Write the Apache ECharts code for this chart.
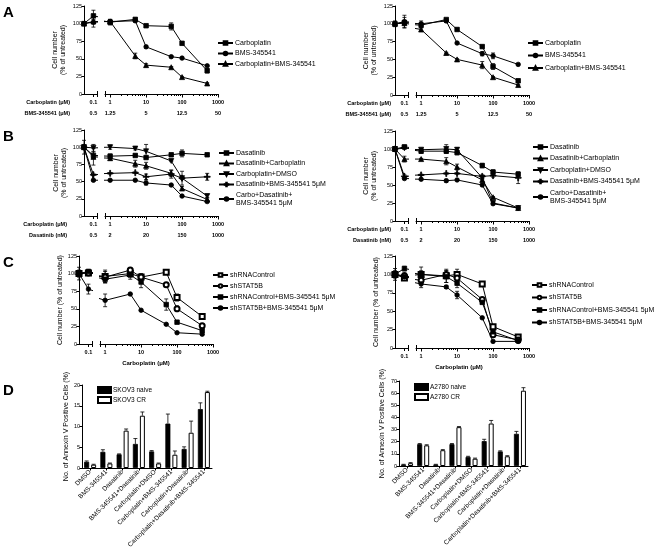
<!DOCTYPE html>
<html><head><meta charset="utf-8">
<script src="https://cdn.jsdelivr.net/npm/echarts@6/dist/echarts.min.js"></script>
<style>html,body{margin:0;padding:0;background:#fff}#c{width:662px;height:557px}</style>
</head><body><div id="c"></div>
<script>
// ---------------- DATA ----------------
const conc = [0.05, 0.1, 1, 5, 10, 50, 100, 500]; // first point = untreated
const carboTicks = [0.1, 1, 10, 100, 1000];
const bmsTickLabels = ['0.5', '1.25', '5', '12.5', '50'];
const dasaTickLabels = ['0.5', '2', '20', '150', '1000'];

// Panel A left
const aL_carbo = [100, 111, 102, 106, 97, 96, 72, 33];
const aL_carboErr = [0, 8, 4, 2, 1, 5, 2, 3];
const aL_bms = [100, 102, 103, 104, 67, 53, 51, 40];
const aL_bmsErr = [2, 7, 3, 2, 2, 1, 1, 1];
const aL_combo = [100, 103, 103, 54, 41, 38, 24, 15];
const aL_comboErr = [0, 3, 2, 4, 2, 1, 1, 1];
// Panel A right
const aR_carbo = [100, 102, 98, 106, 92, 68, 40, 20];
const aR_carboErr = [4, 7, 3, 1, 2, 2, 4, 2];
const aR_bms = [100, 103, 100, 104, 73, 58, 55, 43];
const aR_bmsErr = [2, 9, 4, 2, 1, 3, 4, 1];
const aR_combo = [100, 101, 92, 59, 50, 42, 25, 14];
const aR_comboErr = [2, 3, 2, 1, 1, 5, 1, 1];
// Panel B left
const bL_dasa = [100, 88, 87, 88, 85, 89, 91, 89];
const bL_dasaErr = [3, 5, 3, 2, 2, 2, 5, 2];
const bL_dasaCarbo = [100, 86, 84, 76, 73, 62, 40, 24];
const bL_dasaCarboErr = [0, 12, 3, 5, 5, 4, 3, 2];
const bL_carboDmso = [100, 99, 100, 98, 94, 80, 55, 29];
const bL_carboDmsoErr = [10, 5, 3, 2, 10, 1, 10, 2];
const bL_dasaBms = [100, 60, 62, 63, 57, 61, 55, 57];
const bL_dasaBmsErr = [3, 1, 1, 1, 4, 6, 2, 5];
const bL_triple = [100, 52, 52, 52, 48, 45, 29, 21];
const bL_tripleErr = [2, 1, 1, 1, 3, 1, 1, 1];
// Panel B right
const bR_dasa = [100, 103, 97, 97, 95, 77, 68, 65];
const bR_dasaErr = [3, 2, 3, 2, 3, 3, 3, 3];
const bR_dasaCarbo = [100, 86, 86, 83, 75, 57, 33, 18];
const bR_dasaCarboErr = [2, 4, 1, 5, 4, 2, 1, 1];
const bR_carboDmso = [100, 101, 99, 100, 99, 60, 25, 18];
const bR_carboDmsoErr = [3, 1, 2, 6, 3, 2, 1, 1];
const bR_dasaBms = [100, 62, 64, 66, 66, 62, 63, 60];
const bR_dasaBmsErr = [2, 2, 1, 1, 1, 2, 2, 8];
const bR_triple = [100, 59, 58, 56, 57, 50, 24, 18];
const bR_tripleErr = [2, 1, 1, 2, 1, 1, 1, 1];
// Panel C left
const cL_ctrl = [100, 101, 96, 100, 95, 102, 66, 39];
const cL_ctrlErr = [5, 2, 9, 4, 5, 3, 5, 2];
const cL_stat = [100, 101, 95, 105, 95, 84, 50, 26];
const cL_statErr = [3, 2, 8, 3, 3, 2, 4, 2];
const cL_ctrlBms = [100, 103, 92, 98, 88, 56, 31, 19];
const cL_ctrlBmsErr = [4, 3, 5, 6, 8, 8, 2, 2];
const cL_statBms = [100, 78, 62, 71, 48, 28, 16, 14];
const cL_statBmsErr = [9, 7, 9, 1, 1, 1, 1, 2];
// Panel C right
const cR_ctrl = [100, 95, 100, 98, 100, 87, 29, 15];
const cR_ctrlErr = [5, 3, 10, 9, 7, 2, 2, 2];
const cR_stat = [100, 98, 92, 100, 95, 66, 18, 11];
const cR_statErr = [8, 5, 4, 5, 4, 2, 2, 1];
const cR_ctrlBms = [100, 108, 100, 97, 88, 62, 22, 10];
const cR_ctrlBmsErr = [4, 3, 5, 8, 6, 2, 2, 1];
const cR_statBms = [100, 97, 87, 83, 72, 41, 9, 9];
const cR_statBmsErr = [4, 3, 5, 2, 5, 1, 1, 1];
// Panel D
const dCategories = ['DMSO', 'BMS-345541', 'Dasatinib', 'BMS-345541+Dasatinib', 'Carboplatin+DMSO',
  'Carboplatin+BMS-345541', 'Carboplatin+Dasatinib', 'Carboplatin+Dasatinib+BMS-345541'];
const skov3Naive = [1.5, 3.9, 3.3, 5.8, 4.0, 10.7, 4.6, 14.2];
const skov3NaiveErr = [0.2, 0.5, 0.1, 1.3, 0.2, 2.3, 0.5, 1.5];
const skov3CR = [0.8, 1.1, 9.0, 12.6, 1.1, 3.2, 8.5, 18.3];
const skov3CRErr = [0.1, 0.1, 0.4, 0.9, 0.1, 0.9, 2.8, 0.2];
const a2780Naive = [1.2, 18, 1.2, 18, 7.5, 20.5, 12, 26.5];
const a2780NaiveErr = [0.2, 0.5, 0.2, 0.5, 0.5, 1.5, 0.5, 2];
const a2780CR = [2.3, 17, 13, 32, 6, 35, 8, 62];
const a2780CRErr = [0.5, 0.5, 0.5, 0.5, 0.5, 2.5, 0.5, 2.5];

// ---------------- STYLE / LAYOUT ----------------
const FONT = '"Liberation Sans", Arial, sans-serif';
const K = '#000';
const SYM = {
  square: {symbol: 'rect', size: 4.5},
  circle: {symbol: 'circle', size: 4.5},
  tri: {symbol: 'triangle', size: 5},
  triDown: {symbol: 'triangle', size: 5, rotate: 180},
  plus: {symbol: 'path://M4.2,0H5.8V4.2H10V5.8H5.8V10H4.2V5.8H0V4.2H4.2Z', size: 6},
  openSquare: {symbol: 'emptyRect', size: 5},
  openCircle: {symbol: 'emptyCircle', size: 5}
};
const minorTicks = [];
[1, 10, 100].forEach(d => { for (let m = 2; m <= 9; m++) minorTicks.push(m * d); });

const grid = [], xAxis = [], yAxis = [], series = [], legend = [], graphic = [];

function errRender(params, api) {
  const x = api.value(0), y = api.value(1), e = api.value(2);
  if (!e) return;
  const cs = params.coordSys;
  const p = api.coord([x, y]);
  if (p[0] < cs.x - 1 || p[0] > cs.x + cs.width + 1) return;
  const t = api.coord([x, y + e]), b = api.coord([x, Math.max(0, y - e)]);
  const st = {stroke: K, lineWidth: 0.8};
  return {type: 'group', children: [
    {type: 'line', shape: {x1: p[0], y1: t[1], x2: p[0], y2: b[1]}, style: st},
    {type: 'line', shape: {x1: p[0] - 2, y1: t[1], x2: p[0] + 2, y2: t[1]}, style: st},
    {type: 'line', shape: {x1: p[0] - 2, y1: b[1], x2: p[0] + 2, y2: b[1]}, style: st}
  ]};
}

function tickFormatter(row2) {
  return function (v) {
    const i = carboTicks.findIndex(t => Math.abs(Math.log10(t) - Math.log10(v)) < 0.01);
    if (i < 0) return '';
    return row2 ? carboTicks[i] + '\n' + row2[i] : String(carboTicks[i]);
  };
}

function text(x, y, str, font, align) {
  graphic.push({type: 'text', x: x, y: y, silent: true,
    style: {text: str, font: font, fill: K, textAlign: align || 'left', align: align || 'left',
      textVerticalAlign: 'middle', verticalAlign: 'middle'}});
}

function linePanel(p) {
  const gi = grid.length;
  const h = p.bottom - p.top;
  grid.push({left: p.x0, top: p.top, width: 13, height: h, outerBoundsMode: 'none'});
  grid.push({left: p.x0 + 21, top: p.top, width: 113, height: h, outerBoundsMode: 'none'});
  const xi = xAxis.length;
  const lab = {show: true, fontSize: 5.5, fontWeight: 'bold', color: K, fontFamily: FONT,
    lineHeight: 11, margin: 3, formatter: tickFormatter(p.row2)};
  const base = {type: 'log', position: 'bottom', splitLine: {show: false},
    minorTick: {show: false}, minorSplitLine: {show: false}};
  xAxis.push(Object.assign({}, base, {gridIndex: gi, min: 0.05, max: 0.13,
    axisLine: {show: true, onZero: false, lineStyle: {color: K, width: 1}},
    axisTick: {show: true, customValues: [0.1], length: 3, lineStyle: {color: K}},
    axisLabel: Object.assign({customValues: [0.1]}, lab)}));
  xAxis.push(Object.assign({}, base, {gridIndex: gi, min: 0.05, max: 0.13, offset: -3,
    axisLine: {show: false}, axisTick: {show: true, customValues: [0.1299], length: 6, lineStyle: {color: K}},
    axisLabel: {show: false}}));
  xAxis.push(Object.assign({}, base, {gridIndex: gi + 1, min: 0.72, max: 1000,
    axisLine: {show: true, onZero: false, lineStyle: {color: K, width: 1}},
    axisTick: {show: true, customValues: [1, 10, 100, 1000], length: 3.5, lineStyle: {color: K}},
    axisLabel: Object.assign({customValues: [1, 10, 100, 1000]}, lab)}));
  xAxis.push(Object.assign({}, base, {gridIndex: gi + 1, min: 0.72, max: 1000,
    axisLine: {show: false}, axisTick: {show: true, customValues: minorTicks, length: 2, lineStyle: {color: K}},
    axisLabel: {show: false}}));
  xAxis.push(Object.assign({}, base, {gridIndex: gi + 1, min: 0.72, max: 1000, offset: -3,
    axisLine: {show: false}, axisTick: {show: true, customValues: [0.7201], length: 6, lineStyle: {color: K}},
    axisLabel: {show: false}}));
  const yi = yAxis.length;
  yAxis.push({gridIndex: gi, type: 'value', min: 0, max: 125, interval: 25,
    axisLine: {show: true, lineStyle: {color: K, width: 1}},
    axisTick: {show: true, length: 2.5, lineStyle: {color: K}},
    axisLabel: {fontSize: 5.5, color: K, margin: 2, fontFamily: FONT},
    splitLine: {show: false},
    name: p.yName, nameLocation: 'middle', nameGap: p.nameGap, nameRotate: 90,
    nameTextStyle: {fontSize: 7, color: K, lineHeight: 8, fontFamily: FONT}});
  yAxis.push({gridIndex: gi + 1, type: 'value', min: 0, max: 125, interval: 25, show: false});

  p.series.forEach(s => {
    const data = conc.map((c, i) => [c, s.vals[i]]);
    const sy = SYM[s.sym];
    [xi, xi + 2].forEach((xa, k) => {
      series.push({type: 'line', name: s.name, xAxisIndex: xa, yAxisIndex: yi + k, data: data,
        symbol: sy.symbol, symbolSize: sy.size, symbolRotate: sy.rotate || 0, showAllSymbol: true,
        lineStyle: {color: K, width: 1}, itemStyle: {color: K, borderColor: K, borderWidth: 0.8},
        clip: true, z: 3, emphasis: {disabled: true}});
    });
  });
  [xi, xi + 2].forEach((xa, k) => {
    const items = [];
    p.series.forEach(s => conc.forEach((c, i) => items.push([c, s.vals[i], s.err[i]])));
    series.push({type: 'custom', name: 'err' + gi + k, xAxisIndex: xa, yAxisIndex: yi + k,
      data: items, renderItem: errRender, silent: true, z: 2});
  });
  legend.push({left: p.lg[0], top: p.lg[1], orient: 'vertical', itemGap: p.lg[2], padding: 0,
    itemWidth: 15, itemHeight: 4.5, selectedMode: false,
    data: p.series.map(s => s.name),
    textStyle: {fontSize: 7, color: K, fontFamily: FONT, lineHeight: 8, padding: [0, 0, 0, -3]}});
  if (p.rowTitles) {
    p.rowTitles.forEach((t, i) => text(p.rowRight, p.bottom + 8 + i * 11, t, 'bold 5.5px ' + FONT, 'right'));
  }
  if (p.xTitle) text(p.xTitle[0], p.xTitle[1], p.xTitle[2], 'bold 6px ' + FONT, 'center');
}

function barPanel(p) {
  const gi = grid.length;
  grid.push({left: p.left, top: p.top, width: p.width, height: p.bottom - p.top, outerBoundsMode: 'none'});
  const xi = xAxis.length, yi = yAxis.length;
  xAxis.push({gridIndex: gi, type: 'category', data: dCategories,
    axisLine: {show: true, lineStyle: {color: K, width: 1}},
    axisTick: {show: true, alignWithLabel: true, length: 2.5, lineStyle: {color: K}},
    axisLabel: {rotate: 45, interval: 0, fontSize: 6.5, color: K, margin: 3, fontFamily: FONT}});
  yAxis.push({gridIndex: gi, type: 'value', min: 0, max: p.max, interval: p.interval,
    axisLine: {show: true, lineStyle: {color: K, width: 1}},
    axisTick: {show: true, length: 2.5, lineStyle: {color: K}},
    axisLabel: {fontSize: 5.5, color: K, margin: 2, fontFamily: FONT},
    splitLine: {show: false},
    name: 'No. of Annexin V Positive Cells (%)', nameLocation: 'middle', nameGap: p.nameGap, nameRotate: 90,
    nameTextStyle: {fontSize: 7, color: K, fontFamily: FONT}});
  series.push({type: 'bar', name: p.names[0], xAxisIndex: xi, yAxisIndex: yi, data: p.naive,
    barWidth: 5, barGap: '40%', itemStyle: {color: K, borderColor: K, borderWidth: 0.8}, z: 3});
  series.push({type: 'bar', name: p.names[1], xAxisIndex: xi, yAxisIndex: yi, data: p.cr,
    barWidth: 5, barGap: '40%', itemStyle: {color: '#fff', borderColor: K, borderWidth: 1}, z: 3});
  const items = [];
  p.naive.forEach((v, i) => items.push([i, v, p.naiveErr[i], -1]));
  p.cr.forEach((v, i) => items.push([i, v, p.crErr[i], 1]));
  series.push({type: 'custom', name: 'barErr' + gi, xAxisIndex: xi, yAxisIndex: yi, data: items, silent: true, z: 4,
    renderItem: function (params, api) {
      const i = api.value(0), v = api.value(1), e = api.value(2), side = api.value(3);
      const b = api.coord([i, v]), t = api.coord([i, v + e]);
      const x = b[0] + side * 3.5;
      const st = {stroke: K, lineWidth: 0.8};
      return {type: 'group', children: [
        {type: 'line', shape: {x1: x, y1: b[1], x2: x, y2: t[1]}, style: st},
        {type: 'line', shape: {x1: x - 2, y1: t[1], x2: x + 2, y2: t[1]}, style: st}]};
    }});
  legend.push({left: p.lg[0], top: p.lg[1], orient: 'vertical', itemGap: 2, itemWidth: 13, itemHeight: 6,
    padding: 0, icon: 'rect', selectedMode: false, data: p.names,
    textStyle: {fontSize: 6.5, color: K, fontFamily: FONT, padding: [0, 0, 0, -3]}});
}

const cellName2 = 'Cell number\n(% of untreated)';
const cellName1 = 'Cell number (% of untreated)';
const aNames = ['Carboplatin', 'BMS-345541', 'Carboplatin+BMS-345541'];
const bNames = ['Dasatinib', 'Dasatinib+Carboplatin', 'Carboplatin+DMSO', 'Dasatinib+BMS-345541 5μM', 'Carbo+Dasatinib+\nBMS-345541 5μM'];
const cNames = ['shRNAControl', 'shSTAT5B', 'shRNAControl+BMS-345541 5μM', 'shSTAT5B+BMS-345541 5μM'];

linePanel({x0: 84, top: 6, bottom: 94, yName: cellName2, nameGap: 17, row2: bmsTickLabels,
  rowTitles: ['Carboplatin (μM)', 'BMS-345541 (μM)'], rowRight: 70, lg: [217, 39, 2.5],
  series: [
    {name: aNames[0], vals: aL_carbo, err: aL_carboErr, sym: 'square'},
    {name: aNames[1], vals: aL_bms, err: aL_bmsErr, sym: 'circle'},
    {name: aNames[2], vals: aL_combo, err: aL_comboErr, sym: 'tri'}]});
linePanel({x0: 395, top: 6, bottom: 95, yName: cellName2, nameGap: 17, row2: bmsTickLabels,
  rowTitles: ['Carboplatin (μM)', 'BMS-345541 (μM)'], rowRight: 391, lg: [527, 39, 4.5],
  series: [
    {name: aNames[0], vals: aR_carbo, err: aR_carboErr, sym: 'square'},
    {name: aNames[1], vals: aR_bms, err: aR_bmsErr, sym: 'circle'},
    {name: aNames[2], vals: aR_combo, err: aR_comboErr, sym: 'tri'}]});
linePanel({x0: 84, top: 130, bottom: 216, yName: cellName2, nameGap: 16, row2: dasaTickLabels,
  rowTitles: ['Carboplatin (μM)', 'Dasatinib (nM)'], rowRight: 67, lg: [218, 149, 2.5],
  series: [
    {name: bNames[0], vals: bL_dasa, err: bL_dasaErr, sym: 'square'},
    {name: bNames[1], vals: bL_dasaCarbo, err: bL_dasaCarboErr, sym: 'tri'},
    {name: bNames[2], vals: bL_carboDmso, err: bL_carboDmsoErr, sym: 'triDown'},
    {name: bNames[3], vals: bL_dasaBms, err: bL_dasaBmsErr, sym: 'plus'},
    {name: bNames[4], vals: bL_triple, err: bL_tripleErr, sym: 'circle'}]});
linePanel({x0: 395, top: 131, bottom: 221, yName: cellName2, nameGap: 17, row2: dasaTickLabels,
  rowTitles: ['Carboplatin (μM)', 'Dasatinib (nM)'], rowRight: 391, lg: [532, 143, 3.5],
  series: [
    {name: bNames[0], vals: bR_dasa, err: bR_dasaErr, sym: 'square'},
    {name: bNames[1], vals: bR_dasaCarbo, err: bR_dasaCarboErr, sym: 'tri'},
    {name: bNames[2], vals: bR_carboDmso, err: bR_carboDmsoErr, sym: 'triDown'},
    {name: bNames[3], vals: bR_dasaBms, err: bR_dasaBmsErr, sym: 'plus'},
    {name: bNames[4], vals: bR_triple, err: bR_tripleErr, sym: 'circle'}]});
linePanel({x0: 79, top: 256, bottom: 344, yName: cellName1, nameGap: 12, row2: null,
  xTitle: [146, 363, 'Carboplatin (μM)'], lg: [212, 271, 3],
  series: [
    {name: cNames[0], vals: cL_ctrl, err: cL_ctrlErr, sym: 'openSquare'},
    {name: cNames[1], vals: cL_stat, err: cL_statErr, sym: 'openCircle'},
    {name: cNames[2], vals: cL_ctrlBms, err: cL_ctrlBmsErr, sym: 'square'},
    {name: cNames[3], vals: cL_statBms, err: cL_statBmsErr, sym: 'circle'}]});
linePanel({x0: 395, top: 256, bottom: 348, yName: cellName1, nameGap: 15, row2: null,
  xTitle: [459, 367, 'Carboplatin (μM)'], lg: [531, 281, 4.5],
  series: [
    {name: cNames[0], vals: cR_ctrl, err: cR_ctrlErr, sym: 'openSquare'},
    {name: cNames[1], vals: cR_stat, err: cR_statErr, sym: 'openCircle'},
    {name: cNames[2], vals: cR_ctrlBms, err: cR_ctrlBmsErr, sym: 'square'},
    {name: cNames[3], vals: cR_statBms, err: cR_statBmsErr, sym: 'circle'}]});

barPanel({left: 82, top: 385, bottom: 468, width: 130, max: 20, interval: 5, nameGap: 10,
  names: ['SKOV3 naive', 'SKOV3 CR'], naive: skov3Naive, naiveErr: skov3NaiveErr, cr: skov3CR, crErr: skov3CRErr,
  lg: [97, 386]});
barPanel({left: 399, top: 381, bottom: 466, width: 129, max: 70, interval: 10, nameGap: 13,
  names: ['A2780 naive', 'A2780 CR'], naive: a2780Naive, naiveErr: a2780NaiveErr, cr: a2780CR, crErr: a2780CRErr,
  lg: [414, 383]});

text(3, 13, 'A', 'bold 15px ' + FONT);
text(3, 137, 'B', 'bold 15px ' + FONT);
text(3, 263, 'C', 'bold 15px ' + FONT);
text(3, 391, 'D', 'bold 15px ' + FONT);

const chart = echarts.init(document.getElementById('c'), null, {renderer: 'canvas'});
chart.setOption({
  animation: false,
  backgroundColor: '#fff',
  textStyle: {fontFamily: FONT, color: K},
  tooltip: {show: false},
  grid: grid, xAxis: xAxis, yAxis: yAxis, series: series, legend: legend, graphic: graphic
});
</script></body></html>
